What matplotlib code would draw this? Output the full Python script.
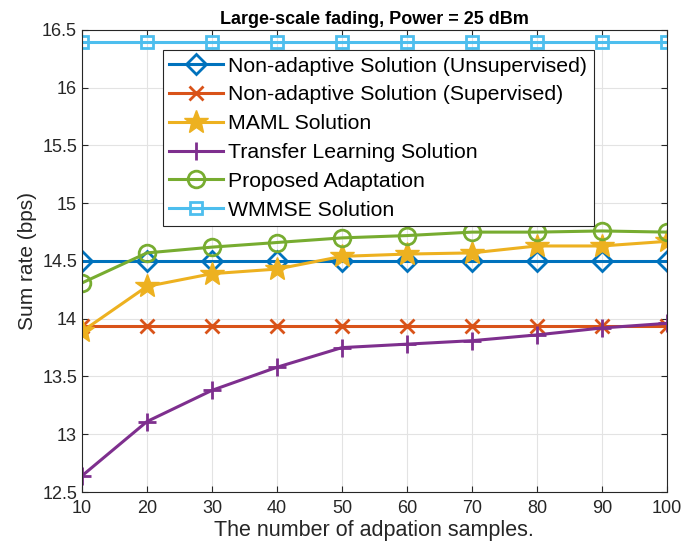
import numpy as np
import matplotlib
matplotlib.use('Agg')
import matplotlib.pyplot as plt

plt.rcParams['font.family'] = ['Liberation Sans', 'DejaVu Sans']

samples = [10, 20, 30, 40, 50, 60, 70, 80, 90, 100]

unsupervised = [14.5, 14.5, 14.5, 14.5, 14.5, 14.5, 14.5, 14.5, 14.5, 14.5]
supervised = [13.94, 13.94, 13.94, 13.94, 13.94, 13.94, 13.94, 13.94, 13.94, 13.94]
maml = [13.89, 14.28, 14.39, 14.43, 14.54, 14.56, 14.57, 14.63, 14.63, 14.67]
transfer = [12.64, 13.11, 13.38, 13.58, 13.75, 13.78, 13.81, 13.86, 13.92, 13.96]
proposed = [14.31, 14.57, 14.62, 14.66, 14.70, 14.72, 14.75, 14.75, 14.76, 14.75]
wmmse = [16.4, 16.4, 16.4, 16.4, 16.4, 16.4, 16.4, 16.4, 16.4, 16.4]

labels = ['Non-adaptive Solution (Unsupervised)',
          'Non-adaptive Solution (Supervised)',
          'MAML Solution',
          'Transfer Learning Solution',
          'Proposed Adaptation',
          'WMMSE Solution']

fig = plt.figure(figsize=(6.86, 5.55), dpi=100)
ax = fig.add_axes([0.1195, 0.1135, 0.8525, 0.8325])

lw = 2.2
ax.plot(samples, unsupervised, color='#0072BD', marker='D', markersize=10,
        markerfacecolor='none', markeredgewidth=2, linewidth=lw, label=labels[0])
ax.plot(samples, supervised, color='#D95319', marker='x', markersize=10,
        markeredgewidth=2, linewidth=lw, label=labels[1])
ax.plot(samples, maml, color='#EDB120', marker='*', markersize=18,
        linewidth=lw, label=labels[2])
ax.plot(samples, transfer, color='#7E2F8E', marker='+', markersize=13,
        markeredgewidth=2, linewidth=lw, label=labels[3])
ax.plot(samples, proposed, color='#77AC30', marker='o', markersize=12,
        markerfacecolor='none', markeredgewidth=2, linewidth=lw, label=labels[4])
ax.plot(samples, wmmse, color='#4DBEEE', marker='s', markersize=9,
        markerfacecolor='none', markeredgewidth=2, linewidth=lw, label=labels[5])

ax.set_xlim(10, 100)
ax.set_ylim(12.5, 16.5)
ax.set_xticks(samples)
ax.set_yticks(np.arange(12.5, 16.51, 0.5))
ax.set_yticklabels(['12.5', '13', '13.5', '14', '14.5', '15', '15.5', '16', '16.5'])
ax.tick_params(direction='in', top=True, right=True, labelsize=13,
               length=4, color='#262626', labelcolor='#262626')
ax.tick_params(axis='x', pad=6)
ax.grid(True, color='#e3e3e3', linewidth=0.8)
ax.set_axisbelow(True)
for s in ax.spines.values():
    s.set_color('#262626')
    s.set_linewidth(0.8)

ax.set_xlabel('The number of adpation samples.', fontsize=15.5, color='#262626',
              labelpad=2)
ax.set_ylabel('Sum rate (bps)', fontsize=15, color='#262626', labelpad=4)
ax.set_title('Large-scale fading, Power = 25 dBm', fontsize=13,
             fontweight='bold', pad=4)

leg = ax.legend(loc='upper left', bbox_to_anchor=(0.138, 0.957), fontsize=15.3,
                fancybox=False, edgecolor='#262626', framealpha=1,
                handlelength=2.5, borderpad=0.32, labelspacing=0.46,
                handletextpad=0.25, borderaxespad=0)
leg.get_frame().set_linewidth(0.8)

fig.savefig('out.png', dpi=100)
